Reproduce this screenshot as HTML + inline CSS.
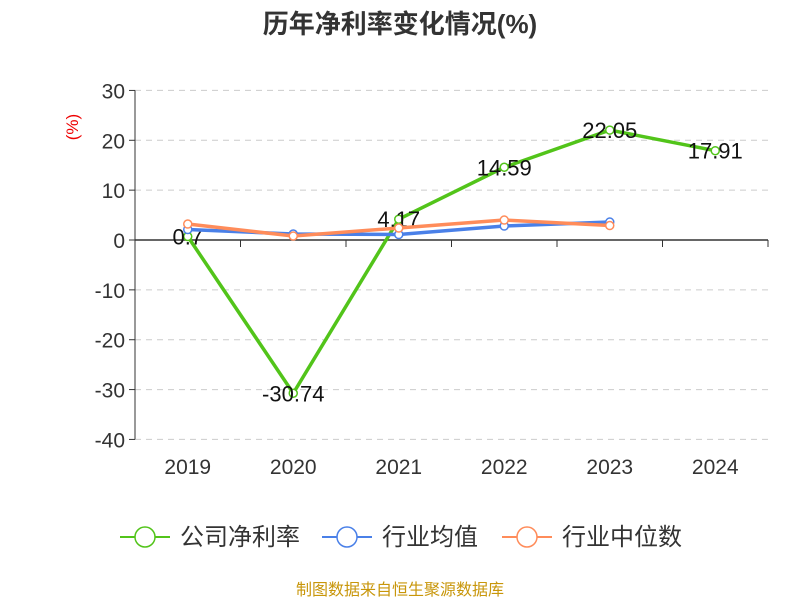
<!DOCTYPE html>
<html><head><meta charset="utf-8"><style>
body{margin:0;background:#fff;font-family:"Liberation Sans","Noto Sans CJK SC",sans-serif}
</style></head><body>
<svg id="c" width="800" height="600" xmlns="http://www.w3.org/2000/svg" font-family="Liberation Sans, Noto Sans CJK SC, sans-serif"></svg>
<script>
const categories=["2019","2020","2021","2022","2023","2024"];
const companyValues=[0.7,-30.74,4.17,14.59,22.05,17.91];
const industryAvg=[2.1,1.2,1.1,2.8,3.6];
const industryMedian=[3.2,0.8,2.4,4.0,2.9];
const yTicks=[30,20,10,0,-10,-20,-30,-40];
const svg=document.getElementById('c');const NS='http://www.w3.org/2000/svg';
function el(t,a,p){const e=document.createElementNS(NS,t);for(const k in a)e.setAttribute(k,a[k]);(p||svg).appendChild(e);return e;}
const x0=135,x1=768,bw=(x1-x0)/categories.length;
const xS=i=>x0+bw*(i+0.5);
const yS=v=>240-v*(349/70);
let t=el('text',{x:400,y:33,'text-anchor':'middle','font-size':26,'font-weight':'bold',fill:'#333'});t.textContent='历年净利率变化情况(%)';

t=el('text',{x:78,y:127,'text-anchor':'middle','font-size':17,fill:'#e00',transform:'rotate(-90 78 127)'});t.textContent='(%)';

yTicks.forEach(v=>{const y=yS(v);
 if(v!==0){const g=el('line',{x1:x0,x2:x1,y1:y,y2:y,stroke:'#ccc','stroke-dasharray':'6,5'});}
 const tk=el('line',{x1:x0-6,x2:x0,y1:y,y2:y,stroke:'#333'});
 const l=el('text',{x:x0-10,y:y+8,'text-anchor':'end','font-size':21,fill:'#333'});l.textContent=v;});
let a=el('line',{x1:x0,x2:x0,y1:yS(30),y2:yS(-40),stroke:'#333'});
a=el('line',{x1:x0,x2:x1,y1:yS(0),y2:yS(0),stroke:'#333','stroke-width':1.5});
for(let i=0;i<=categories.length;i++){const tk=el('line',{x1:x0+bw*i,x2:x0+bw*i,y1:yS(0),y2:yS(0)+7,stroke:'#333'});}
categories.forEach((c,i)=>{const l=el('text',{x:xS(i),y:474,'text-anchor':'middle','font-size':21,fill:'#333'});l.textContent=c;});
function series(vals,color,name,labels){
 const s=el('polyline',{points:vals.map((v,i)=>xS(i)+','+yS(v)).join(' '),fill:'none',stroke:color,'stroke-width':3.5});
 
 vals.forEach((v,i)=>{const p=el('circle',{cx:xS(i),cy:yS(v),r:4,fill:'#fff',stroke:color,'stroke-width':1.5});
  if(labels){const l=el('text',{x:xS(i),y:yS(v)+8,'text-anchor':'middle','font-size':22,fill:'#111'});l.textContent=v;}});
}
series(companyValues,'#52c41a','company-net-margin',true);
series(industryAvg,'#4a80e8','industry-average',false);
series(industryMedian,'#ff8c5a','industry-median',false);
const leg=[['公司净利率','#52c41a',120],['行业均值','#4a80e8',322],['行业中位数','#ff8c5a',502]];
leg.forEach(([n,c,x])=>{const g=el('g',{});
 el('line',{x1:x,x2:x+50,y1:537,y2:537,stroke:c,'stroke-width':2},g);
 el('circle',{cx:x+25,cy:537,r:10,fill:'#fff',stroke:c,'stroke-width':1.5},g);
 const l=el('text',{x:x+60,y:545,'font-size':24,fill:'#333'},g);l.textContent=n;});
t=el('text',{x:400,y:595,'text-anchor':'middle','font-size':16,fill:'#c8960a'});t.textContent='制图数据来自恒生聚源数据库';

</script></body></html>
